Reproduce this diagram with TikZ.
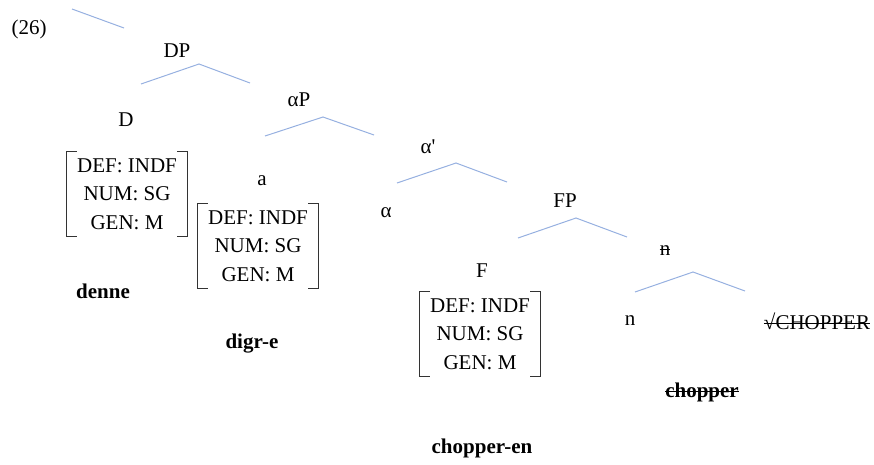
\documentclass[tikz,border=0pt]{standalone}
\usepackage{fontspec}
\setmainfont{Liberation Serif}
\usepackage{tikz}
\definecolor{branchblue}{RGB}{150,176,224}

\begin{document}
\begin{tikzpicture}[x=1pt,y=-1pt]
	\useasboundingbox (0,0) rectangle (874,464);
	\begin{scope}[every node/.style={anchor=base,inner sep=0pt,
	              font=\fontsize{21}{28.5}\selectfont}]
		\node (ex) at (29,34) {(26)};
		\node (DP) at (177,57) {DP};
		\node (D) at (126,126) {D};
		\node (aP) at (299,106) {αP};
		\node (a) at (262,185) {a};
		\node (abar) at (428,153) {α\textquotesingle};
		\node (alpha) at (386,217) {α};
		\node (FP) at (565,207) {FP};
		\node (F) at (482,277) {F};
		\node (nP) at (665,255) {n};
		\node (n) at (630,325) {n};
		\node (root) at (817,329) {√CHOPPER};
		% exponents
		\node (denne) at (103,298) {\textbf{denne}};
		\node (digre) at (252,348) {\textbf{digr-e}};
		\node (chopperen) at (482,453) {\textbf{chopper-en}};
		\node (chopper) at (702,397) {\textbf{chopper}};
	\end{scope}
	% struck-out material
	\foreach \s in {nP,root,chopper}
		\draw[line width=1pt] ([yshift=5.5pt]\s.base west) -- ([yshift=5.5pt]\s.base east);

	% feature matrices
	\begin{scope}[every node/.style={anchor=center,inner sep=0pt,align=center,
	              minimum width=120pt,minimum height=84pt,
	              font=\fontsize{21}{28.5}\selectfont}]
		\node (fD) at (127,194) {DEF: INDF\\NUM: SG\\GEN: M};
		\node (fa) at (258,246) {DEF: INDF\\NUM: SG\\GEN: M};
		\node (fF) at (480,334) {DEF: INDF\\NUM: SG\\GEN: M};
	\end{scope}
	\foreach \m in {fD,fa,fF} {
		\draw[line width=1pt,black!80] ([xshift=10pt]\m.north west) -- (\m.north west)
			-- (\m.south west) -- ([xshift=10pt]\m.south west);
		\draw[line width=1pt,black!80] ([xshift=-10pt]\m.north east) -- (\m.north east)
			-- (\m.south east) -- ([xshift=-10pt]\m.south east);
	}

	% branches
	\coordinate (top-l) at (72,9);   \coordinate (top-r) at (124,28);
	\coordinate (DP-t) at (199,64);  \coordinate (DP-l) at (141,84);  \coordinate (DP-r) at (250,83);
	\coordinate (aP-t) at (323,117); \coordinate (aP-l) at (265,136); \coordinate (aP-r) at (374,135);
	\coordinate (ab-t) at (456,163); \coordinate (ab-l) at (397,183); \coordinate (ab-r) at (507,182);
	\coordinate (FP-t) at (576,218); \coordinate (FP-l) at (518,238); \coordinate (FP-r) at (627,237);
	\coordinate (nP-t) at (693,272); \coordinate (nP-l) at (635,292); \coordinate (nP-r) at (745,291);
	\begin{scope}[every path/.style={draw=branchblue,line width=1pt}]
		\path (top-l) -- (top-r);
		\foreach \p in {DP,aP,ab,FP,nP}
			\path (\p-l) -- (\p-t) -- (\p-r);
	\end{scope}
\end{tikzpicture}
\end{document}
